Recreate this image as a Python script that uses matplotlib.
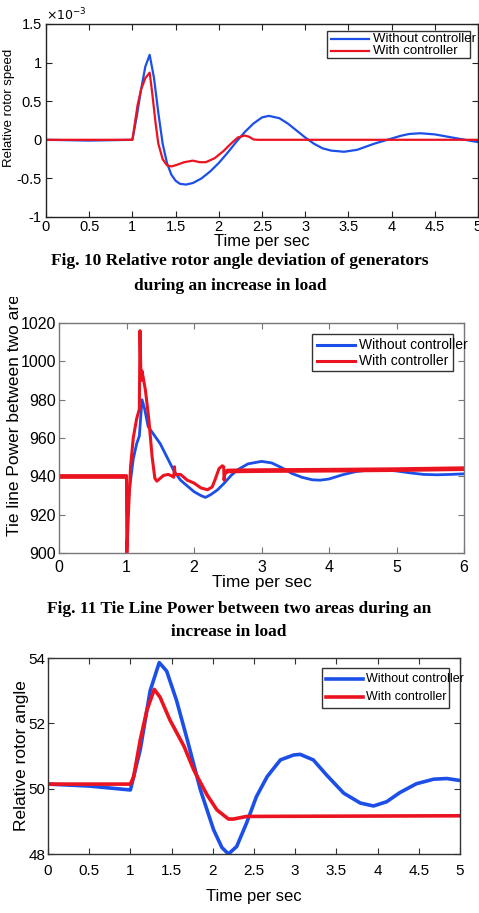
"""
Three stacked response plots (rotor speed, tie-line power, rotor angle)
with and without controller, plus the figure captions between them.
"""

import numpy as np
import matplotlib
matplotlib.use("Agg")
import matplotlib.pyplot as plt
from matplotlib.patches import Rectangle
from matplotlib.lines import Line2D
from matplotlib.transforms import Bbox

plt.rcParams["font.family"] = ["Liberation Sans", "DejaVu Sans"]
plt.rcParams["axes.unicode_minus"] = False

BLUE = "#1c4fe8"
RED = "#ec1320"
LABELS = ["Without controller", "With controller"]

# ------------------------------------------------------------------
# Fig. 10: relative rotor speed (x 1e-3)
# ------------------------------------------------------------------
speed_t_without = [0, 0.5, 1.0, 1.05, 1.1, 1.15, 1.2, 1.25, 1.3, 1.35, 1.4, 1.45,
                   1.5, 1.55, 1.62, 1.7, 1.8, 1.9, 2.0, 2.1, 2.2, 2.3, 2.4, 2.5,
                   2.58, 2.7, 2.8, 2.9, 3.0, 3.1, 3.2, 3.3, 3.45, 3.6, 3.7, 3.8,
                   3.95, 4.1, 4.2, 4.33, 4.5, 4.6, 4.7, 4.8, 4.9, 5.0]
speed_without = [0, -0.01, 0, 0.3, 0.65, 0.95, 1.1, 0.8, 0.35, -0.05, -0.3, -0.45,
                 -0.53, -0.57, -0.58, -0.56, -0.5, -0.41, -0.3, -0.17, -0.03, 0.1,
                 0.21, 0.29, 0.31, 0.28, 0.21, 0.12, 0.03, -0.05, -0.11, -0.14,
                 -0.155, -0.13, -0.09, -0.05, 0.0, 0.05, 0.075, 0.085, 0.07, 0.05,
                 0.03, 0.01, -0.01, -0.03]
speed_t_with = [0, 1.0, 1.02, 1.06, 1.1, 1.15, 1.2, 1.23, 1.27, 1.3, 1.35, 1.4,
                1.45, 1.5, 1.6, 1.7, 1.78, 1.85, 1.95, 2.05, 2.15, 2.22, 2.3,
                2.35, 2.4, 2.45, 5.0]
speed_with = [0, 0, 0.15, 0.45, 0.65, 0.8, 0.87, 0.6, 0.2, -0.05, -0.25, -0.33,
              -0.345, -0.33, -0.29, -0.27, -0.29, -0.29, -0.24, -0.15, -0.04,
              0.03, 0.055, 0.04, 0.005, 0, 0]

# ------------------------------------------------------------------
# Fig. 11: tie line power
# ------------------------------------------------------------------
tie_t_without = [0, 1.0, 1.005, 1.05, 1.1, 1.15, 1.19, 1.23, 1.27, 1.32, 1.4,
                 1.5, 1.6, 1.7, 1.8, 1.9, 2.0, 2.1, 2.17, 2.25, 2.35, 2.45, 2.55,
                 2.65, 2.8, 3.0, 3.15, 3.3, 3.45, 3.6, 3.75, 3.87, 4.0, 4.2, 4.4,
                 4.6, 4.8, 5.0, 5.2, 5.4, 5.6, 5.8, 6.0]
tie_without = [940, 940, 921, 935, 949, 957, 961, 980, 975, 966, 962, 957, 950,
               943, 938, 935, 932, 930, 929, 930.5, 933, 936.5, 940.5, 943.5,
               946.5, 947.8, 947, 944.5, 941.5, 939.5, 938.2, 938, 938.6, 940.8,
               942.5, 943.3, 943.5, 942.8, 941.8, 941, 940.8, 941, 941.3]
tie_t_with = [0, 1.0, 1.005, 1.03, 1.06, 1.1, 1.15, 1.19, 1.2, 1.215, 1.23, 1.28,
              1.33, 1.38, 1.42, 1.45, 1.5, 1.55, 1.62, 1.68, 1.7, 1.71, 1.72,
              1.8, 1.9, 2.0, 2.1, 2.2, 2.27, 2.32, 2.37, 2.42, 2.44, 2.445, 2.46,
              2.5, 3.0, 4.0, 5.0, 6.0]
tie_with = [940, 940, 900, 922, 945, 960, 970, 975, 1016, 990, 995, 985, 970,
            950, 939, 937.5, 939, 940.5, 941, 940, 939.5, 945, 941, 941, 938,
            936.5, 934, 933, 934.5, 939, 944, 945.5, 945, 938, 942, 942.8, 943,
            943.2, 943.5, 944]

# ------------------------------------------------------------------
# Fig. 12: relative rotor angle
# ------------------------------------------------------------------
angle_t_without = [0, 0.5, 1.0, 1.12, 1.24, 1.35, 1.44, 1.56, 1.69, 1.85, 2.01,
                   2.11, 2.19, 2.29, 2.41, 2.53, 2.66, 2.82, 2.98, 3.06, 3.22,
                   3.38, 3.59, 3.79, 3.95, 4.11, 4.27, 4.47, 4.68, 4.84, 5.0]
angle_without = [50.14, 50.08, 49.96, 51.2, 53.0, 53.86, 53.6, 52.7, 51.5, 49.96,
                 48.74, 48.2, 48.0, 48.23, 48.95, 49.76, 50.37, 50.88, 51.03,
                 51.05, 50.88, 50.42, 49.86, 49.56, 49.47, 49.6, 49.88, 50.15,
                 50.29, 50.31, 50.25]
angle_t_with = [0, 1.0, 1.04, 1.12, 1.2, 1.29, 1.36, 1.48, 1.65, 1.77, 1.93,
                2.05, 2.19, 2.25, 2.41, 5.0]
angle_with = [50.14, 50.14, 50.37, 51.5, 52.4, 53.04, 52.8, 52.1, 51.3, 50.57,
              49.81, 49.35, 49.07, 49.07, 49.15, 49.17]

FIG_W, FIG_H = 479, 913
fig = plt.figure(figsize=(FIG_W / 100, FIG_H / 100), dpi=100)


def fx(px):
    return px / FIG_W


def fy(py):
    return 1 - py / FIG_H


def rect(left, top, right, bottom):
    return [fx(left), fy(bottom), (right - left) / FIG_W, (bottom - top) / FIG_H]


def style_axes(ax, spine_color, tick_size):
    for s in ax.spines.values():
        s.set_color(spine_color)
        s.set_linewidth(1.0)
    ax.tick_params(direction="in", top=True, right=True, length=4, width=0.8,
                   color=spine_color, labelsize=tick_size, labelcolor="black")


def matlab_legend(box, line_x, line_ys, text_x, size, lw):
    # MATLAB-style legend: fixed box, text allowed to run past the frame
    left, top, right, bottom = box
    fig.patches.append(Rectangle((fx(left), fy(bottom)), fx(right) - fx(left),
                                 fy(top) - fy(bottom), transform=fig.transFigure,
                                 facecolor="white", edgecolor="#333333", lw=1.0,
                                 zorder=5))
    for color, label, ly in zip([BLUE, RED], LABELS, line_ys):
        fig.lines.append(Line2D([fx(line_x[0]), fx(line_x[1])], [fy(ly), fy(ly)],
                                transform=fig.transFigure, color=color, lw=lw,
                                zorder=6))
        fig.text(fx(text_x), fy(ly), label, fontsize=size, ha="left",
                 va="center", zorder=7)


def caption(py, text, cx=0.5):
    fig.text(cx, fy(py), text, ha="center", va="center", fontsize=12.5,
             fontweight="bold", family=["Liberation Serif"])


# ---------------- panel 1 ----------------
ax1 = fig.add_axes(rect(46, 24, 478, 217))
ax1.plot(speed_t_without, speed_without, color=BLUE, lw=1.6)
ax1.plot(speed_t_with, speed_with, color=RED, lw=1.6)
ax1.set_xlim(0, 5)
ax1.set_ylim(-1, 1.5)
ax1.set_xticks(np.arange(0, 5.01, 0.5))
ax1.set_yticks(np.arange(-1, 1.51, 0.5))
ax1.xaxis.set_major_formatter(plt.FormatStrFormatter("%g"))
ax1.yaxis.set_major_formatter(plt.FormatStrFormatter("%g"))
style_axes(ax1, "#222222", 10.5)
ax1.tick_params(axis="x", pad=2)
ax1.tick_params(axis="y", pad=3)
ax1.set_xlabel("Time per sec", fontsize=12, labelpad=0)
ax1.set_ylabel("Relative rotor speed", fontsize=9.5)
ax1.yaxis.set_label_coords(-0.072, 0.567)
ax1.text(0.0, 1.005, r"$\times 10^{-3}$", transform=ax1.transAxes, fontsize=9,
         ha="left", va="bottom")
matlab_legend((327, 31, 470, 58), (331, 369), (39, 51), 373, 9.5, 1.6)

caption(261, "Fig. 10 Relative rotor angle deviation of generators")
caption(286, "during an increase in load", 0.48)

# ---------------- panel 2 ----------------
ax2 = fig.add_axes(rect(59, 323, 464, 553))
ax2.plot(tie_t_without, tie_without, color=BLUE, lw=2.0)
tw = np.array(tie_t_with)
pw = np.array(tie_with)
ax2.plot(tw, pw, color=RED, lw=2.2)
pre = tw <= 1.0
post = tw >= 2.46
ax2.plot(tw[pre], pw[pre], color=RED, lw=3.4, solid_capstyle="butt")
ax2.plot(tw[post], pw[post], color=RED, lw=3.4, solid_capstyle="butt")
ax2.set_xlim(0, 6)
ax2.set_ylim(900, 1020)
ax2.set_xticks(range(0, 7))
ax2.set_yticks(range(900, 1021, 20))
style_axes(ax2, "#777777", 11.5)
ax2.tick_params(axis="x", pad=5)
ax2.tick_params(axis="y", pad=2)
ax2.set_xlabel("Time per sec", fontsize=12.5, labelpad=0)
ax2.set_ylabel("Tie line Power between two areas", fontsize=12.5)
ax2.yaxis.set_label_coords(-0.092, 0.64)
ylab2 = ax2.yaxis.label
ylab2.set_clip_on(True)
ylab2.set_clip_box(Bbox.from_extents(0, 0, FIG_W, FIG_H - 297))
matlab_legend((312, 334, 453, 371), (317, 355), (345, 361), 359, 10, 2.2)

caption(609, "Fig. 11 Tie Line Power between two areas during an")
caption(632, "increase in load", 0.477)

# ---------------- panel 3 ----------------
ax3 = fig.add_axes(rect(48, 658, 460, 854))
ax3.plot(angle_t_without, angle_without, color=BLUE, lw=2.6)
ax3.plot(angle_t_with, angle_with, color=RED, lw=2.6)
ax3.set_xlim(0, 5)
ax3.set_ylim(48, 54)
ax3.set_xticks(np.arange(0, 5.01, 0.5))
ax3.set_yticks(range(48, 55, 2))
ax3.xaxis.set_major_formatter(plt.FormatStrFormatter("%g"))
style_axes(ax3, "#333333", 11)
ax3.tick_params(axis="x", pad=7)
ax3.tick_params(axis="y", pad=2)
ax3.set_xlabel("Time per sec", fontsize=12, labelpad=8)
ax3.set_ylabel("Relative rotor angle", fontsize=12.5)
ax3.yaxis.set_label_coords(-0.046, 0.5)
matlab_legend((322, 668, 449, 708), (326, 363), (679, 697), 366, 9, 2.6)

fig.savefig("out.png", dpi=100)
